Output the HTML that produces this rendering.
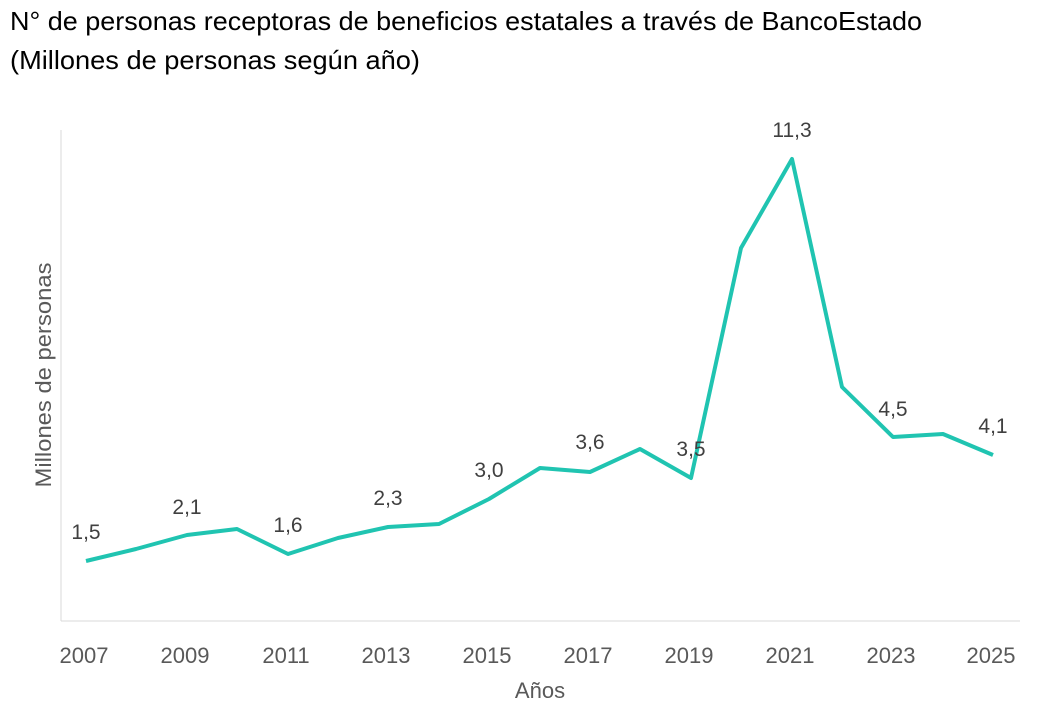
<!DOCTYPE html>
<html><head><meta charset="utf-8"><style>
body{margin:0;background:#fff;width:1043px;height:703px;overflow:hidden;font-family:"Liberation Sans",sans-serif}
</style></head><body>
<svg width="1043" height="703" xmlns="http://www.w3.org/2000/svg" font-family="Liberation Sans, sans-serif">
<text x="10" y="30" font-size="26" fill="#000" textLength="912" lengthAdjust="spacingAndGlyphs">N° de personas receptoras de beneficios estatales a través de BancoEstado</text>
<text x="10" y="69" font-size="26" fill="#000" textLength="410" lengthAdjust="spacingAndGlyphs">(Millones de personas según año)</text>
<line x1="61" y1="130" x2="61" y2="621" stroke="#d9d9d9" stroke-width="1"/>
<line x1="61" y1="621" x2="1020" y2="621" stroke="#d9d9d9" stroke-width="1"/>
<polyline fill="none" stroke="#20c4b1" stroke-width="4" stroke-linejoin="round"
points="86,561 136,549 187,535 237,529 288,554 338,538 388,527 439,524 489,499 540,468 590,472 640,449 691,478 741,248 792,159 842,387 893,437 943,434 993,455"/>
<g font-size="21" fill="#404040" text-anchor="middle">
<text x="86" y="539">1,5</text>
<text x="187" y="514">2,1</text>
<text x="288" y="532">1,6</text>
<text x="388" y="505">2,3</text>
<text x="489" y="477">3,0</text>
<text x="590" y="449">3,6</text>
<text x="691" y="456">3,5</text>
<text x="792" y="137">11,3</text>
<text x="893" y="416">4,5</text>
<text x="993" y="433">4,1</text>
</g>
<g font-size="22" fill="#595959" text-anchor="middle">
<text x="84" y="663">2007</text>
<text x="185" y="663">2009</text>
<text x="286" y="663">2011</text>
<text x="386" y="663">2013</text>
<text x="487" y="663">2015</text>
<text x="588" y="663">2017</text>
<text x="689" y="663">2019</text>
<text x="790" y="663">2021</text>
<text x="891" y="663">2023</text>
<text x="991" y="663">2025</text>
<text x="540" y="698">Años</text>
<text transform="translate(51,375) rotate(-90)" textLength="225" lengthAdjust="spacingAndGlyphs">Millones de personas</text>
</g>
</svg>
</body></html>
